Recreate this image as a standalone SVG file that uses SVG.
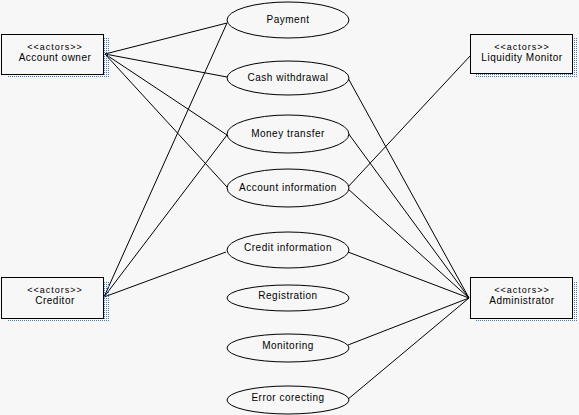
<svg xmlns="http://www.w3.org/2000/svg" width="579" height="415" viewBox="0 0 579 415">
<defs>
<pattern id="dots" width="2" height="2" patternUnits="userSpaceOnUse"><rect x="0" y="0" width="1" height="1" fill="#3a7bd5"/></pattern>
</defs>
<style>
.bg{fill:#f7f7f7}
.box{fill:#f7f7f7;stroke:#000;stroke-width:1}
.sh{fill:url(#dots)}
.uc{fill:#f7f7f7;stroke:#000;stroke-width:1}
.t{font-family:"Liberation Sans",Arial,sans-serif;font-size:10px;fill:#000;text-anchor:middle;letter-spacing:0.5px}
.st{font-family:"Liberation Sans",Arial,sans-serif;font-size:9px;fill:#000;text-anchor:middle;letter-spacing:1px}
.c{stroke:#000;stroke-width:1;fill:none}
</style>
<rect class="bg" x="0" y="0" width="579" height="415"/>
<g id="connectors">
<line class="c" x1="105" y1="54" x2="227" y2="23"/>
<line class="c" x1="105" y1="54" x2="227" y2="77"/>
<line class="c" x1="105" y1="54" x2="227" y2="135"/>
<line class="c" x1="105" y1="54" x2="227" y2="187"/>
<line class="c" x1="104" y1="297" x2="227" y2="23"/>
<line class="c" x1="104" y1="297" x2="227" y2="135"/>
<line class="c" x1="104" y1="297" x2="226" y2="252"/>
<line class="c" x1="347" y1="188" x2="471" y2="55"/>
<line class="c" x1="348" y1="78" x2="469" y2="298"/>
<line class="c" x1="348" y1="133" x2="469" y2="298"/>
<line class="c" x1="347" y1="188" x2="469" y2="298"/>
<line class="c" x1="348" y1="252" x2="469" y2="298"/>
<line class="c" x1="348" y1="345" x2="469" y2="298"/>
<line class="c" x1="347" y1="400" x2="469" y2="298"/>
</g>
<g id="account-owner">
<rect class="sh" x="7" y="38" width="102" height="40"/>
<rect class="box" x="1.5" y="34.5" width="102" height="40"/>
<text class="st" x="55" y="50">&lt;&lt;actors&gt;&gt;</text>
<text class="t" x="55" y="61">Account owner</text>
</g>
<g id="creditor">
<rect class="sh" x="7" y="281" width="102" height="41"/>
<rect class="box" x="1.5" y="277.5" width="102" height="41"/>
<text class="st" x="55" y="293">&lt;&lt;actors&gt;&gt;</text>
<text class="t" x="55" y="304">Creditor</text>
</g>
<g id="liquidity-monitor">
<rect class="sh" x="476" y="38" width="101" height="39"/>
<rect class="box" x="470.5" y="34.5" width="102" height="39"/>
<text class="st" x="522" y="50">&lt;&lt;actors&gt;&gt;</text>
<text class="t" x="522" y="61">Liquidity Monitor</text>
</g>
<g id="administrator">
<rect class="sh" x="476" y="281" width="101" height="41"/>
<rect class="box" x="470.5" y="277.5" width="102" height="41"/>
<text class="st" x="522" y="293">&lt;&lt;actors&gt;&gt;</text>
<text class="t" x="522" y="304">Administrator</text>
</g>
<g id="payment"><ellipse class="uc" cx="288" cy="20" rx="61" ry="18"/><text class="t" x="288" y="23">Payment</text></g>
<g id="cash-withdrawal"><ellipse class="uc" cx="288" cy="78" rx="61" ry="17"/><text class="t" x="288" y="81">Cash withdrawal</text></g>
<g id="money-transfer"><ellipse class="uc" cx="288" cy="134" rx="61" ry="19"/><text class="t" x="288" y="137">Money transfer</text></g>
<g id="account-information"><ellipse class="uc" cx="288" cy="188" rx="61" ry="19"/><text class="t" x="288" y="191">Account information</text></g>
<g id="credit-information"><ellipse class="uc" cx="288" cy="250" rx="61" ry="18"/><text class="t" x="288" y="251">Credit information</text></g>
<g id="registration"><ellipse class="uc" cx="288" cy="298" rx="61" ry="13"/><text class="t" x="288" y="299">Registration</text></g>
<g id="monitoring"><ellipse class="uc" cx="288" cy="348" rx="61" ry="14"/><text class="t" x="288" y="349">Monitoring</text></g>
<g id="error-correcting"><ellipse class="uc" cx="288" cy="400" rx="61" ry="14"/><text class="t" x="288" y="401">Error corecting</text></g>
</svg>
